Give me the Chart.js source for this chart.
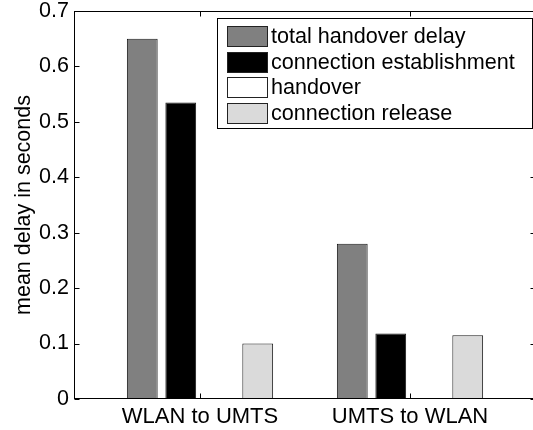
<!DOCTYPE html>
<html>
<head>
<meta charset="utf-8">
<script src="https://cdn.jsdelivr.net/npm/chart.js@4"></script>
<style>
  html, body { margin: 0; padding: 0; background: #fff; overflow: hidden; }
  #wrap { width: 533px; height: 430px; overflow: hidden; }
</style>
</head>
<body>
<div id="wrap"><canvas id="chart" width="540" height="430"></canvas></div>
<script>
// data
const categories = ['WLAN to UMTS', 'UMTS to WLAN'];
const seriesNames = ['total handover delay', 'connection establishment', 'handover', 'connection release'];
const totalDelay = [0.65, 0.28];
const connEstablish = [0.535, 0.118];
const handoverOnly = [0, 0];
const connRelease = [0.1, 0.115];
const yTicks = [0, 0.1, 0.2, 0.3, 0.4, 0.5, 0.6, 0.7];

const seriesValues = [totalDelay, connEstablish, handoverOnly, connRelease];
const fills = ['#808080', '#000000', '#ffffff', '#dadada'];
const FONT = "'Liberation Sans', Arial, Helvetica, sans-serif";

// MATLAB style box with inward ticks on all four sides
const axesBox = {
    id: 'axesBox',
    afterDatasetsDraw(chart) {
        const { ctx, chartArea: a, scales: { x, y } } = chart;
        const L = Math.round(a.left) + 0.5, R = Math.round(a.right) - 0.5;
        const T = Math.round(a.top) + 0.5, B = Math.round(a.bottom) - 0.5;
        ctx.save();
        ctx.strokeStyle = '#000';
        ctx.lineWidth = 1;
        ctx.strokeRect(L, T, R - L, B - T);
        ctx.beginPath();
        y.ticks.forEach(t => {
            const py = Math.round(y.getPixelForValue(t.value)) + 0.5;
            ctx.moveTo(L, py); ctx.lineTo(L + 5, py);
            ctx.moveTo(R, py); ctx.lineTo(R - 5, py);
        });
        x.ticks.forEach(t => {
            const px = Math.round(x.getPixelForValue(t.value)) + 0.5;
            ctx.moveTo(px, B); ctx.lineTo(px, B - 5);
            ctx.moveTo(px, T); ctx.lineTo(px, T + 5);
        });
        ctx.stroke();
        ctx.restore();
    }
};

// boxed legend in the upper right corner
const boxLegend = {
    id: 'boxLegend',
    afterDraw(chart) {
        const ctx = chart.ctx;
        ctx.save();
        ctx.fillStyle = '#fff';
        ctx.fillRect(217.5, 18.5, 315, 110);
        ctx.strokeStyle = '#000';
        ctx.lineWidth = 1;
        ctx.strokeRect(217.5, 18.5, 315, 110);
        ctx.font = '21.6px ' + FONT;
        ctx.textBaseline = 'middle';
        chart.data.datasets.forEach((ds, i) => {
            const cy = 36 + i * 25.7;
            ctx.fillStyle = ds.backgroundColor;
            ctx.fillRect(227.5, Math.round(cy - 10) + 0.5, 40, 20);
            ctx.strokeStyle = '#222';
            ctx.strokeRect(227.5, Math.round(cy - 10) + 0.5, 40, 20);
            ctx.fillStyle = '#000';
            ctx.fillText(ds.label, 271, cy + 1);
        });
        ctx.restore();
    }
};

new Chart(document.getElementById('chart'), {
    type: 'bar',
    data: {
        datasets: seriesNames.map((name, i) => ({
            label: name,
            data: seriesValues[i].map((v, j) => ({ x: j + 1, y: v })),
            backgroundColor: fills[i],
            borderColor: '#1a1a1a',
            borderWidth: 1,
            categoryPercentage: 0.733,
            barPercentage: 0.8
        }))
    },
    options: {
        responsive: false,
        animation: false,
        devicePixelRatio: 1,
        layout: { padding: { top: 11, right: 4, left: 0, bottom: 0 } },
        plugins: { legend: { display: false }, tooltip: { enabled: false } },
        scales: {
            x: {
                type: 'linear',
                min: 0.4,
                max: 2.6,
                offset: false,
                grid: { display: false, drawTicks: false },
                border: { display: false },
                afterBuildTicks: s => { s.ticks = categories.map((c, i) => ({ value: i + 1 })); },
                afterFit: s => { s.height = 31; s.paddingLeft = 0; s.paddingRight = 0; },
                ticks: {
                    autoSkip: false,
                    maxRotation: 0,
                    padding: 5,
                    color: '#000',
                    font: { family: FONT, size: 22 },
                    callback: v => categories[v - 1] ?? ''
                }
            },
            y: {
                min: 0,
                max: 0.7,
                grid: { display: false, drawTicks: false },
                border: { display: false },
                afterBuildTicks: s => { s.ticks = yTicks.map(v => ({ value: v })); },
                afterFit: s => { s.width = 74; s.paddingTop = 0; s.paddingBottom = 0; },
                ticks: {
                    padding: 5,
                    color: '#000',
                    font: { family: FONT, size: 21.5 },
                    callback: v => (v === 0 ? '0' : v.toFixed(1))
                },
                title: {
                    display: true,
                    text: 'mean delay in seconds',
                    color: '#000',
                    font: { family: FONT, size: 21.5 },
                    padding: { top: 11, bottom: 0 }
                }
            }
        }
    },
    plugins: [axesBox, boxLegend]
});
</script>
</body>
</html>
